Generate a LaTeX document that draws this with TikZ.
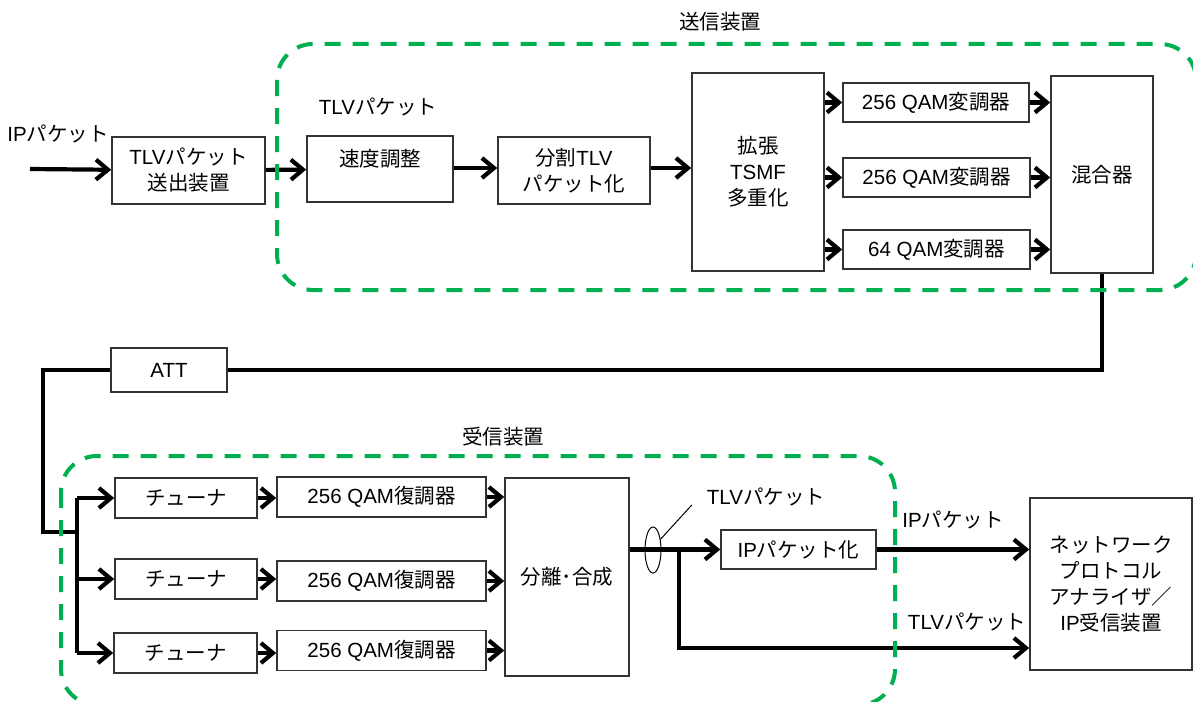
\documentclass[tikz,border=0pt]{standalone}
\usepackage{fontspec}
\setmainfont{Liberation Sans}
\newfontfamily\jp{Noto Sans CJK JP}
\newcommand\jtext[1]{{\jp #1}}
\usetikzlibrary{arrows.meta,shapes.geometric}
\definecolor{colGrp}{RGB}{0,176,80}
\tikzset{
  blk/.style   = {rectangle, draw=black!80, line width=1.6pt, fill=white,
                  align=center, inner sep=0pt},
  arr/.style   = {-{Straight Barb[length=12pt,width=20pt]}, line width=4.2pt},
  wire/.style  = {line width=3.6pt},
  grp/.style   = {draw=colGrp, line width=4pt, rounded corners=36pt,
                  dash pattern=on 16pt off 12pt},
  lbl/.style   = {inner sep=0pt},
}

\begin{document}
\begin{tikzpicture}[x=1pt, y=-1pt, font=\fontsize{20.5}{26}\selectfont]
\useasboundingbox (0,0) rectangle (1193,701);

%% transmitter
\node[blk, minimum width=153pt, minimum height=67pt] (tlv_tx) at (188.5,170.5)
      {TLV\jtext{パケット}\\\jtext{送出装置}};
\node[blk, minimum width=146pt, minimum height=66pt, text height=18pt, text depth=24pt]
      (rate) at (380,169) {\jtext{速度調整}};
\node[blk, minimum width=152pt, minimum height=67pt] (split) at (574,170.5)
      {\jtext{分割}TLV\\\jtext{パケット化}};
\node[blk, minimum width=132pt, minimum height=198pt] (tsmf) at (758,172)
      {\jtext{拡張}\\TSMF\\\jtext{多重化}};
\node[blk, minimum width=186pt, minimum height=39pt] (mod1) at (936,102.5)
      {256 QAM\jtext{変調器}};
\node[blk, minimum width=187pt, minimum height=39pt] (mod2) at (936.5,177.5)
      {256 QAM\jtext{変調器}};
\node[blk, minimum width=187pt, minimum height=39pt] (mod3) at (936.5,249.5)
      {64 QAM\jtext{変調器}};
\node[blk, minimum width=102pt, minimum height=197pt] (mix) at (1102,174.5)
      {\jtext{混合器}};

\coordinate (ip_in) at (30,169);
\node[lbl] (ip_lbl)  at (58,134)  {IP\jtext{パケット}};
\node[lbl] (tlv_lbl) at (378,107) {TLV\jtext{パケット}};
\node[lbl] (tx_lbl)  at (720,22)  {\jtext{送信装置}};

%% channel
\node[blk, minimum width=116pt, minimum height=44pt] (att) at (169,370) {ATT};
\coordinate (feed) at (43,532);
\coordinate (bus)  at (77,532);

%% receiver
\node[blk, minimum width=142pt, minimum height=40pt] (tun1) at (186,498) {\jtext{チューナ}};
\node[blk, minimum width=142pt, minimum height=40pt] (tun2) at (186,579) {\jtext{チューナ}};
\node[blk, minimum width=143pt, minimum height=40pt] (tun3) at (185.5,653) {\jtext{チューナ}};
\node[blk, minimum width=209pt, minimum height=40pt] (dem1) at (381.5,497)
      {256 QAM\jtext{復調器}};
\node[blk, minimum width=209pt, minimum height=40pt] (dem2) at (381.5,581)
      {256 QAM\jtext{復調器}};
\node[blk, minimum width=209pt, minimum height=40pt] (dem3) at (381.5,650.5)
      {256 QAM\jtext{復調器}};
\node[blk, minimum width=124pt, minimum height=198pt] (sep) at (567,577)
      {\jtext{分離･合成}};
\node[blk, minimum width=155pt, minimum height=39pt] (ippk) at (798.5,549.5)
      {IP\jtext{パケット化}};
\node[blk, minimum width=162pt, minimum height=172pt] (ana) at (1111,584)
      {\jtext{ネットワーク}\\\jtext{プロトコル}\\\jtext{アナライザ／}\\IP\jtext{受信装置}};

\node[ellipse, draw, line width=1pt, minimum width=16pt, minimum height=46pt,
      inner sep=0pt] (bundle) at (653,550) {};
\coordinate (tap) at (679,550);

\node[lbl] (bundle_lbl) at (766,497) {TLV\jtext{パケット}};
\node[lbl] (ipout_lbl)  at (953,520) {IP\jtext{パケット}};
\node[lbl] (tlvout_lbl) at (967,622) {TLV\jtext{パケット}};
\node[lbl] (rx_lbl)     at (503,437) {\jtext{受信装置}};

%% arrows: transmitter
\draw[arr] (ip_in) -- (tlv_tx);
\draw[arr] (tlv_tx) -- (rate);
\draw[arr] (rate.east |- 0,168) -- (split.west |- 0,168);
\draw[arr] (split.east |- 0,168) -- (tsmf.west |- 0,168);
\draw[arr] (tsmf.east |- mod1) -- (mod1);
\draw[arr] (tsmf.east |- mod2) -- (mod2);
\draw[arr] (tsmf.east |- mod3) -- (mod3);
\draw[arr] (mod1) -- (mod1 -| mix.west);
\draw[arr] (mod2) -- (mod2 -| mix.west);
\draw[arr] (mod3) -- (mod3 -| mix.west);

%% channel
\draw[wire] (mix.south) |- (att.east);
\draw[wire] (att.west) -| (feed) -- (bus);
\draw[wire] (bus |- tun1) -- (bus |- tun3);

%% arrows: receiver
\draw[arr] (bus |- tun1) -- (tun1);
\draw[arr] (bus |- tun2) -- (tun2);
\draw[arr] (bus |- tun3) -- (tun3);
\draw[arr] (tun1) -- (tun1 -| dem1.west);
\draw[arr] (tun2) -- (tun2 -| dem2.west);
\draw[arr] (tun3) -- (tun3 -| dem3.west);
\draw[arr] (dem1) -- (dem1 -| sep.west);
\draw[arr] (dem2) -- (dem2 -| sep.west);
\draw[arr] (dem3) -- (dem3 -| sep.west);
\draw[arr] (sep.east |- ippk) -- (ippk);
\draw[line width=1pt] (bundle.55) -- ([xshift=-15pt,yshift=-8pt]bundle_lbl.west);
\draw[arr] (tap) |- ([yshift=-64pt]ana.west);
\draw[arr] (ippk) -- (ippk -| ana.west);

%% device frames
\draw[grp] (277,44) rectangle (1196,290);
\draw[grp] (61,456) rectangle (895,705);

\end{tikzpicture}
\end{document}
